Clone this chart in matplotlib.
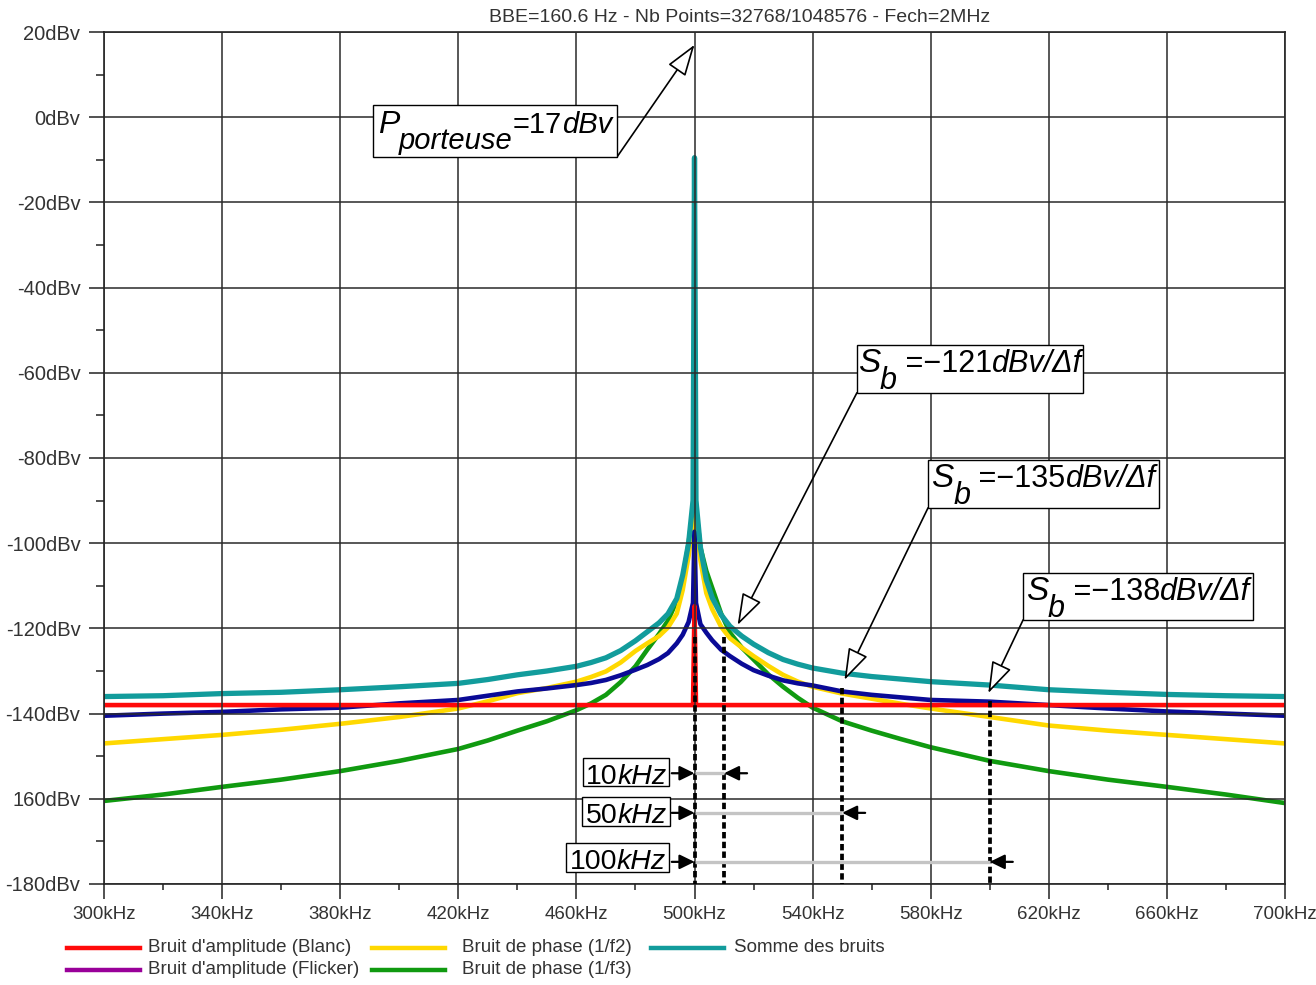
import matplotlib
matplotlib.use("Agg")
import matplotlib.pyplot as plt
from matplotlib.patches import Rectangle
from matplotlib.lines import Line2D
from matplotlib.ticker import MultipleLocator, FixedLocator

plt.rcParams['font.family'] = ['Liberation Sans', 'DejaVu Sans']
plt.rcParams['mathtext.fontset'] = 'custom'
plt.rcParams['mathtext.rm'] = 'Liberation Sans'
plt.rcParams['mathtext.it'] = 'Liberation Sans:italic'

# ---------------------------------------------------------------- data
freq_khz = [300, 320, 340, 360, 380, 400, 420, 430, 440, 450,
            460, 465, 470, 475, 480, 484, 488, 491, 494, 496,
            498, 499.5, 500, 500.5, 502, 504, 506, 509, 512, 516,
            520, 525, 530, 535, 540, 550, 560, 570, 580, 600,
            620, 640, 660, 680, 700]

amp_white_db = [-138.0, -138.0, -138.0, -138.0, -138.0, -138.0, -138.0, -138.0, -138.0, -138.0,
                -138.0, -138.0, -138.0, -138.0, -138.0, -138.0, -138.0, -138.0, -138.0, -138.0,
                -138.0, -138.0, -114.8, -138.0, -138.0, -138.0, -138.0, -138.0, -138.0, -138.0,
                -138.0, -138.0, -138.0, -138.0, -138.0, -138.0, -138.0, -138.0, -138.0, -138.0,
                -138.0, -138.0, -138.0, -138.0, -138.0]

amp_flicker_db = [-140.5, -140.0, -139.6, -139.0, -138.6, -137.6, -136.8, -135.8, -134.8, -134.1,
                  -133.3, -132.8, -132.1, -131.0, -129.7, -128.6, -127.2, -125.8, -123.5, -121.5,
                  -118.5, -114.0, -97.3, -114.0, -119.0, -121.0, -122.8, -125.0, -126.5, -128.3,
                  -129.8, -131.1, -132.2, -132.9, -133.4, -134.8, -135.6, -136.2, -136.8, -137.2,
                  -138.0, -138.8, -139.5, -140.0, -140.5]

phase_f2_db = [-147.0, -146.0, -145.0, -143.8, -142.4, -140.8, -138.8, -137.1, -135.2, -134.0,
               -132.5, -131.4, -130.1, -128.0, -125.3, -123.5, -121.8, -119.8, -116.5, -111.0,
               -103.0, -95.0, -84.4, -95.0, -104.0, -111.7, -115.5, -119.6, -122.3, -124.5,
               -126.5, -128.8, -130.9, -132.5, -133.7, -135.3, -136.5, -137.7, -138.8, -140.8,
               -142.8, -144.0, -145.0, -146.0, -147.0]

phase_f3_db = [-160.5, -159.0, -157.2, -155.5, -153.5, -151.1, -148.3, -146.3, -144.0, -141.8,
               -139.2, -137.6, -135.6, -132.6, -128.9, -125.0, -121.3, -118.2, -113.5, -108.5,
               -100.0, -92.0, -80.0, -92.0, -101.0, -106.5, -110.5, -116.5, -121.0, -124.5,
               -127.3, -130.8, -133.7, -136.3, -138.6, -141.8, -144.0, -146.0, -147.9, -151.1,
               -153.5, -155.5, -157.2, -159.0, -161.0]

noise_sum_db = [-136.0, -135.8, -135.3, -135.0, -134.4, -133.7, -132.9, -132.0, -130.9, -130.0,
                -128.9, -128.0, -126.9, -125.2, -122.9, -120.8, -118.7, -116.6, -113.0, -107.5,
                -100.0, -90.0, -9.5, -90.0, -101.0, -108.6, -112.8, -116.8, -119.5, -121.8,
                -123.7, -125.7, -127.3, -128.4, -129.3, -130.5, -131.3, -131.9, -132.5, -133.3,
                -134.4, -135.0, -135.5, -135.8, -136.0]

x_ticks = [300, 340, 380, 420, 460, 500, 540, 580, 620, 660, 700]
x_tick_labels = ["300kHz", "340kHz", "380kHz", "420kHz", "460kHz", "500kHz",
                 "540kHz", "580kHz", "620kHz", "660kHz", "700kHz"]
y_ticks = [20, 0, -20, -40, -60, -80, -100, -120, -140, -160, -180]
y_tick_labels = ["20dBv", "0dBv", "-20dBv", "-40dBv", "-60dBv", "-80dBv",
                 "-100dBv", "-120dBv", "-140dBv", "160dBv", "-180dBv"]

carrier_khz = 500
carrier_db = 17
offsets_khz = [10, 50, 100]
offset_marker_top_db = [-122, -134, -137]
sb_values = ["\u2212121", "\u2212135", "\u2212138"]
sb_targets = [(514.6, -119.2), (550.8, -132.1), (599.5, -135.2)]

series = [
    ("Bruit de phase (1/f3)", phase_f3_db, "#109a10"),
    ("Bruit de phase (1/f2)", phase_f2_db, "#ffd800"),
    ("Bruit d'amplitude (Flicker)", amp_flicker_db, "#0a0a96"),
    ("Bruit d'amplitude (Blanc)", amp_white_db, "#ff0a0a"),
    ("Somme des bruits", noise_sum_db, "#129c9c"),
]

W, H = 1316, 985
TXT = "#333333"

fig = plt.figure(figsize=(W / 100, H / 100), dpi=100)
ax = fig.add_axes([104 / W, 1 - 884 / H, (1285 - 104) / W, (884 - 32) / H])

for name, vals, col in series:
    lw = 3.8 if name == "Somme des bruits" else 3.3
    ax.plot(freq_khz, vals, color=col, lw=lw, zorder=2)

ax.set_xlim(300, 700)
ax.set_ylim(-180, 20)
ax.xaxis.set_major_locator(FixedLocator(x_ticks))
ax.set_xticklabels(x_tick_labels)
ax.xaxis.set_minor_locator(MultipleLocator(20))
ax.yaxis.set_major_locator(FixedLocator(y_ticks))
ax.set_yticklabels(y_tick_labels)
ax.yaxis.set_minor_locator(MultipleLocator(10))

ax.set_axisbelow(False)
ax.grid(True, which='major', color='#2a2a2a', lw=1.1)
for s in ax.spines.values():
    s.set_color('#222222')
    s.set_linewidth(1.2)
ax.tick_params(axis='y', which='major', length=11, width=1.1, color='#222222',
               pad=6, labelsize=14.5, labelcolor=TXT)
ax.tick_params(axis='y', which='minor', length=6, width=1.1, color='#222222')
ax.tick_params(axis='x', which='major', length=11, width=1.1, color='#222222',
               pad=5, labelsize=13.5, labelcolor=TXT)
ax.tick_params(axis='x', which='minor', length=4.5, width=1.1, color='#222222')

fig.text(740 / W, 1 - 18 / H,
         "BBE=160.6 Hz - Nb Points=32768/1048576 - Fech=2MHz",
         ha='center', va='center', fontsize=14, color=TXT)

# dotted markers at the carrier and at each offset
dotted = dict(color='black', lw=2.7, ls=(0, (1.7, 0.9)), zorder=3, clip_on=False)
ax.plot([carrier_khz, carrier_khz], [offset_marker_top_db[0], -180], **dotted)
for off, top in zip(offsets_khz, offset_marker_top_db):
    ax.plot([carrier_khz + off] * 2, [top, -180], **dotted)

renderer = fig.canvas.get_renderer()


def boxed_text(xl, xr, yb, yt, base, pieces):
    ax.add_patch(Rectangle((xl, yb), xr - xl, yt - yb, facecolor='white',
                           edgecolor='black', lw=1.0, zorder=6, clip_on=False))
    widths = []
    for s, size, style, dy in pieces:
        t = ax.text(0, 0, s, fontsize=size, style=style)
        widths.append(t.get_window_extent(renderer).width)
        t.remove()
    off = -sum(widths) / 2
    xc = (xl + xr) / 2
    for (s, size, style, dy), w in zip(pieces, widths):
        ax.annotate(s, xy=(xc, base), xycoords='data', xytext=(off, dy),
                    textcoords='offset pixels', fontsize=size, style=style,
                    ha='left', va='baseline', color='black', zorder=7,
                    annotation_clip=False)
        off += w


hollow = dict(arrowstyle='-|>,head_length=0.9,head_width=0.3', fc='white',
              ec='black', lw=1.2, mutation_scale=22, shrinkA=0, shrinkB=0)
solid = dict(arrowstyle='-|>,head_length=0.45,head_width=0.22', fc='black',
             ec='black', lw=1.6, mutation_scale=20, shrinkA=0, shrinkB=0)

# carrier power annotation
boxed_text(391.1, 473.75, -9.34, 2.86, -3.6,
           [("P", 23, 'italic', 0), ("porteuse", 21, 'italic', -16),
            ("=17", 21, 'normal', 0), ("dBv", 21, 'italic', 0)])
ax.annotate('', xy=(carrier_khz, carrier_db), xytext=(473.75, -9.34),
            arrowprops=hollow, zorder=5, annotation_clip=False)

# noise density annotations
sb_boxes = [(555.0, 631.6, -64.7, -53.5, -59.8),
            (579.1, 657.3, -91.7, -80.5, -86.8),
            (611.3, 689.2, -118.0, -107.0, -113.3)]
for (xl, xr, yb, yt, base), val, tgt in zip(sb_boxes, sb_values, sb_targets):
    boxed_text(xl, xr, yb, yt, base,
               [("S", 24, 'italic', 0), ("b", 22, 'italic', -17),
                (" =" + val, 22, 'normal', 0), ("dBv/\u0394f", 22, 'italic', 0)])
    ax.annotate('', xy=tgt, xytext=(xl, yb), arrowprops=hollow, zorder=5,
                annotation_clip=False)

# offset span annotations
span_boxes = [(462.1, 491.5, -157.1, -150.5, -156.5, -154.0),
              (461.9, 491.7, -166.3, -159.5, -165.7, -163.3),
              (456.5, 491.5, -177.1, -170.3, -176.5, -174.8)]
for off, (xl, xr, yb, yt, base, ylev) in zip(offsets_khz, span_boxes):
    boxed_text(xl, xr, yb, yt, base,
               [(str(off), 20.5, 'normal', 0), ("kHz", 20.5, 'italic', 0)])
    ax.plot([carrier_khz, carrier_khz + off], [ylev, ylev], color='#c4c4c4',
            lw=2.4, zorder=3.5, solid_capstyle='butt')
    ax.annotate('', xy=(carrier_khz, ylev), xytext=(492.3, ylev),
                arrowprops=solid, zorder=5, annotation_clip=False)
    ax.annotate('', xy=(carrier_khz + off, ylev), xytext=(carrier_khz + off + 7.8, ylev),
                arrowprops=solid, zorder=5, annotation_clip=False)

# legend drawn below the axes
legend_rows = [
    (67, 148, 948, "Bruit d'amplitude (Blanc)", "#ff0a0a"),
    (67, 148, 970, "Bruit d'amplitude (Flicker)", "#990099"),
    (372, 462, 948, "Bruit de phase (1/f2)", "#ffd800"),
    (372, 462, 970, "Bruit de phase (1/f3)", "#109a10"),
    (651, 734, 948, "Somme des bruits", "#129c9c"),
]
for x0, xt, y, label, col in legend_rows:
    fig.add_artist(Line2D([x0 / W, (x0 + 73) / W], [1 - y / H, 1 - y / H],
                          color=col, lw=3.2, transform=fig.transFigure))
    fig.text(xt / W, 1 - y / H, label, ha='left', va='center', fontsize=13.5,
             color=TXT)

fig.savefig("out.png", dpi=100, facecolor='white')
